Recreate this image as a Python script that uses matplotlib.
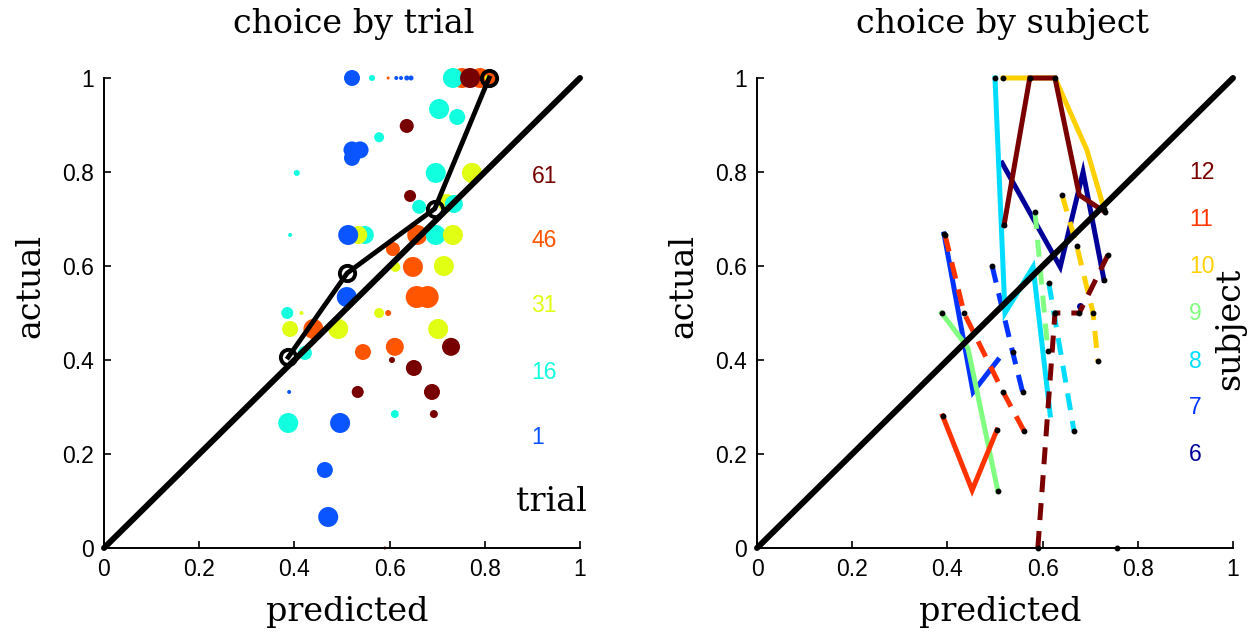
import matplotlib
matplotlib.use("Agg")
import matplotlib.pyplot as plt
import numpy as np

# ---------------- data: left panel (choice by trial) ----------------
trial_x = [0.752, 0.790, 0.806, 0.521, 0.563, 0.597, 0.614, 0.624, 0.636, 0.645, 0.733, 0.769, 0.806,
           0.704, 0.742, 0.636, 0.578, 0.521, 0.538, 0.521,
           0.405, 0.697, 0.773, 0.643, 0.662, 0.720, 0.735,
           0.391, 0.548, 0.534, 0.513, 0.658, 0.697, 0.733, 0.607,
           0.612, 0.649, 0.714, 0.510, 0.657, 0.680,
           0.385, 0.415, 0.578, 0.597,
           0.391, 0.440, 0.492, 0.702,
           0.422, 0.544, 0.611, 0.729, 0.605, 0.651,
           0.389, 0.533, 0.689,
           0.387, 0.496, 0.611, 0.693,
           0.464, 0.471, 0.590]
trial_y = [1.0, 1.0, 1.0, 1.0, 1.0, 1.0, 1.0, 1.0, 1.0, 1.0, 1.0, 1.0, 1.0,
           0.934, 0.917, 0.898, 0.874, 0.847, 0.847, 0.830,
           0.798, 0.798, 0.798, 0.749, 0.726, 0.734, 0.732,
           0.666, 0.666, 0.666, 0.666, 0.666, 0.666, 0.666, 0.636,
           0.598, 0.598, 0.600, 0.534, 0.534, 0.534,
           0.500, 0.500, 0.500, 0.500,
           0.466, 0.466, 0.466, 0.466,
           0.415, 0.417, 0.428, 0.428, 0.400, 0.383,
           0.332, 0.332, 0.332,
           0.266, 0.266, 0.285, 0.285,
           0.166, 0.066, 0.000]
trial_group = [46, 46, 46, 1, 16, 46, 1, 1, 1, 1, 16, 61, 31,
               16, 16, 61, 16, 1, 1, 1,
               16, 16, 31, 61, 16, 31, 16,
               16, 16, 31, 1, 46, 16, 31, 46,
               31, 46, 31, 1, 46, 46,
               16, 31, 31, 46,
               31, 46, 31, 31,
               16, 46, 46, 61, 61, 61,
               1, 61, 61,
               16, 1, 16, 61,
               1, 1, 61]
trial_radius = [10, 10, 8, 8, 3, 1.5, 2, 2, 2.5, 2.5, 10, 10, 3,
                10, 8, 7, 5, 8.5, 8.5, 8,
                3, 10, 10, 6, 7, 9, 9,
                2, 9, 9, 10, 10, 10, 10, 7,
                5, 10, 10, 10, 11, 11,
                6, 2, 5, 3,
                8, 10, 10, 10,
                7, 8, 9, 9, 3, 8,
                2, 6, 8,
                10, 10, 4, 4,
                8, 10, 1.5]

binned_pred = [0.387, 0.511, 0.695, 0.809]
binned_act = [0.406, 0.585, 0.722, 1.000]

trial_labels = ["61", "46", "31", "16", "1"]
trial_label_groups = [61, 46, 31, 16, 1]
trial_label_y = [0.790, 0.655, 0.517, 0.374, 0.236]
group_colors = {1: "#0a55ff", 16: "#12ffdf", 31: "#e0ff12", 46: "#ff5500", 61: "#770000"}

# ---------------- data: right panel (choice by subject) ----------------
subjects = [6, 7, 8, 9, 10, 11, 12]
subject_colors = ["#000099", "#0033ff", "#00ddff", "#80ff80", "#ffd000", "#ff3300", "#7a0000"]
subject_label_y = [0.198, 0.298, 0.396, 0.500, 0.598, 0.698, 0.798]

solid_x = [[0.515, 0.637, 0.685, 0.729],
           [0.393, 0.454, 0.506],
           [0.500, 0.521, 0.580, 0.616],
           [0.388, 0.443, 0.506],
           [0.517, 0.573, 0.626, 0.693, 0.729],
           [0.390, 0.452, 0.504],
           [0.519, 0.573, 0.626, 0.677, 0.731]]
solid_y = [[0.819, 0.598, 0.800, 0.570],
           [0.668, 0.332, 0.400],
           [1.000, 0.500, 0.598, 0.283],
           [0.500, 0.426, 0.121],
           [1.000, 1.000, 1.000, 0.847, 0.722],
           [0.281, 0.123, 0.251],
           [0.687, 1.000, 1.000, 0.751, 0.715]]
solid_dots = [[3], [0], [0], [0, 2], [0, 4], [0, 2], [0, 1, 2, 4]]

dashed_x = [[0.678],
            [0.494, 0.537, 0.558],
            [0.613, 0.666],
            [0.584, 0.611],
            [0.641, 0.672, 0.706, 0.716],
            [0.395, 0.435, 0.517, 0.561],
            [0.590, 0.626, 0.677, 0.737]]
dashed_y = [[0.515],
            [0.600, 0.417, 0.332],
            [0.564, 0.249],
            [0.715, 0.420],
            [0.751, 0.642, 0.500, 0.398],
            [0.666, 0.500, 0.332, 0.249],
            [0.000, 0.500, 0.500, 0.623]]

stray_dot_x = [0.756]
stray_dot_y = [0.0]

ticks = [0, 0.2, 0.4, 0.6, 0.8, 1]
tick_labels = ["0", "0.2", "0.4", "0.6", "0.8", "1"]

# ---------------- figure ----------------
SERIF = ["DejaVu Serif"]
SANS = ["Liberation Sans", "DejaVu Sans"]
plt.rcParams['font.family'] = SANS

W, H = 1256, 632
fig = plt.figure(figsize=(W / 100, H / 100), dpi=100)
ax1 = fig.add_axes([104 / W, 84 / H, 476 / W, 470 / H])
ax2 = fig.add_axes([757 / W, 84 / H, 476 / W, 470 / H])


def style(ax):
    ax.set_xlim(0, 1)
    ax.set_ylim(0, 1)
    ax.spines['top'].set_visible(False)
    ax.spines['right'].set_visible(False)
    for s in ('left', 'bottom'):
        ax.spines[s].set_linewidth(1.4)
    ax.set_xticks(ticks)
    ax.set_xticklabels(tick_labels)
    ax.set_yticks(ticks)
    ax.set_yticklabels(tick_labels)
    ax.tick_params(direction='in', length=5, width=1.2, labelsize=16.5, pad=7)
    ax.text(0.51, -0.137, "predicted", transform=ax.transAxes, ha='center', va='center',
            fontsize=24, family=SERIF)
    ax.text(-0.155, 0.557, "actual", transform=ax.transAxes, ha='center', va='center',
            fontsize=24, family=SERIF, rotation=90)


style(ax1)
style(ax2)

# left panel
cols = [group_colors[g] for g in trial_group]
sizes = [(2 * r * 0.72) ** 2 for r in trial_radius]
ax1.scatter(trial_x, trial_y, s=sizes, c=cols, linewidths=0, clip_on=False, zorder=2)
ax1.plot([0, 1], [0, 1], color='black', lw=4.3, solid_capstyle='round', clip_on=False, zorder=3)
ax1.plot(binned_pred, binned_act, color='black', lw=3.5, marker='o', ms=11,
         mfc='none', mec='black', mew=2.8, clip_on=False, zorder=4)
for lab, g, yy in zip(trial_labels, trial_label_groups, trial_label_y):
    ax1.text(0.898, yy, lab, color=group_colors[g], fontsize=16.5, ha='left', va='center')
ax1.text(0.939, 0.098, "trial", fontsize=24, family=SERIF, ha='center', va='center')
ax1.text(0.525, 1.115, "choice by trial", transform=ax1.transAxes, fontsize=24,
         family=SERIF, ha='center', va='center')

# right panel
for i, col in enumerate(subject_colors):
    ax2.plot(solid_x[i], solid_y[i], color=col, lw=3.6, solid_joinstyle='miter',
             clip_on=False, zorder=2)
    if len(dashed_x[i]) > 1:
        ax2.plot(dashed_x[i], dashed_y[i], color=col, lw=3.6, linestyle=(0, (3.4, 2.2)),
                 clip_on=False, zorder=2)
    else:
        ax2.plot(dashed_x[i], dashed_y[i], color=col, marker='o', ms=4, lw=0,
                 clip_on=False, zorder=2)
ax2.plot([0, 1], [0, 1], color='black', lw=4.3, solid_capstyle='round', clip_on=False, zorder=3)
for i in range(len(subjects)):
    sx = [solid_x[i][k] for k in solid_dots[i]]
    sy = [solid_y[i][k] for k in solid_dots[i]]
    ax2.plot(sx, sy, 'o', color='black', ms=3.2, clip_on=False, zorder=4)
    if len(dashed_x[i]) > 1:
        ax2.plot(dashed_x[i], dashed_y[i], 'o', color='black', ms=3.2, clip_on=False, zorder=4)
ax2.plot(stray_dot_x, stray_dot_y, 'o', color='black', ms=3.2, clip_on=False, zorder=4)
for s, col, yy in zip(subjects, subject_colors, subject_label_y):
    ax2.text(0.908, yy, str(s), color=col, fontsize=16.5, ha='left', va='center')
ax2.text(0.994, 0.466, "subject", fontsize=24, family=SERIF, ha='center', va='center',
         rotation=90)
ax2.text(0.515, 1.115, "choice by subject", transform=ax2.transAxes, fontsize=24,
         family=SERIF, ha='center', va='center')

fig.savefig("out.png", dpi=100)
